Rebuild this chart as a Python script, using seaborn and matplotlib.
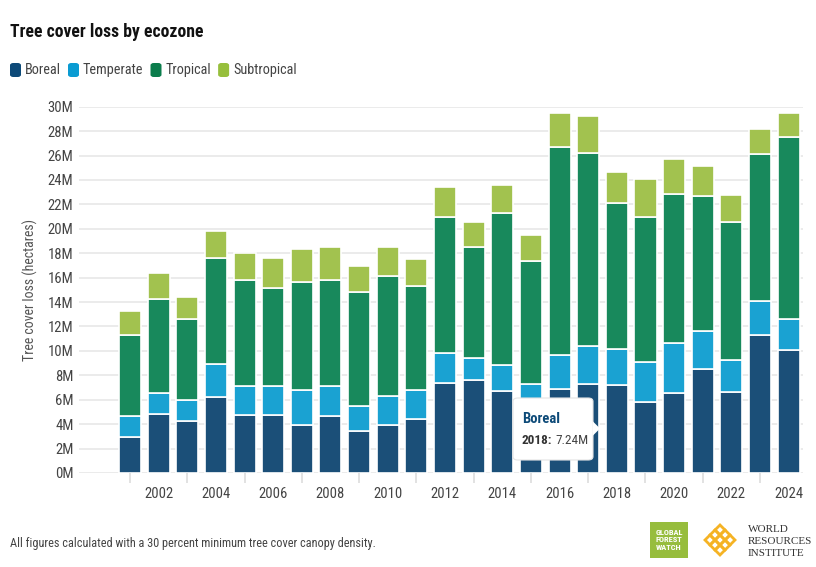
import numpy as np
import pandas as pd
import matplotlib.pyplot as plt
import seaborn as sns
from matplotlib.patches import FancyBboxPatch, Rectangle, Polygon

# data (million hectares)
years = list(range(2001, 2025))
boreal = [2.92, 4.83, 4.28, 6.19, 4.75, 4.75, 3.95, 4.64, 3.41, 3.93, 4.46, 7.36,
          7.58, 6.74, 5.70, 6.87, 7.25, 7.24, 5.84, 6.57, 8.51, 6.65, 11.32, 10.04]
temperate = [1.72, 1.74, 1.69, 2.70, 2.37, 2.34, 2.81, 2.50, 2.04, 2.40, 2.30, 2.46,
             1.80, 2.12, 1.58, 2.81, 3.14, 2.90, 3.27, 4.04, 3.08, 2.62, 2.78, 2.56]
tropical = [6.68, 7.69, 6.63, 8.73, 8.70, 8.10, 8.89, 8.68, 9.38, 9.79, 8.57, 11.12,
            9.16, 12.44, 10.12, 16.99, 15.84, 12.00, 11.89, 12.22, 11.13, 11.26, 12.00, 14.94]
subtropical = [1.96, 2.13, 1.83, 2.23, 2.21, 2.40, 2.68, 2.72, 2.10, 2.40, 2.18, 2.51,
               2.02, 2.29, 2.13, 2.84, 3.03, 2.51, 3.08, 2.89, 2.45, 2.21, 2.04, 1.91]
zones = ["Boreal", "Temperate", "Tropical", "Subtropical"]
bar_colors = ["#1b4f78", "#1aa2d2", "#18895c", "#a2c24f"]
legend_colors = ["#0d4a78", "#0a9bd2", "#0b7d4c", "#97bf3c"]

tooltip_year = 2018
tooltip_value = "7.24M"

df = pd.DataFrame({
    "year": years * 4,
    "zone": sum([[z] * len(years) for z in zones], []),
    "loss": boreal + temperate + tropical + subtropical,
})

plt.rcParams["font.family"] = ["Roboto Condensed", "Roboto", "DejaVu Sans"]

W, H = 816, 567
fig = plt.figure(figsize=(W / 100, H / 100), dpi=100)
ax = fig.add_axes([79 / W, 1 - 473 / H, (803 - 79) / W, (473 - 106.7) / H])

# seaborn stacks hue levels from the last one (bottom) upward
sns.histplot(data=df, x="year", weights="loss", hue="zone",
             hue_order=zones[::-1], palette=dict(zip(zones, bar_colors)),
             multiple="stack", discrete=True, shrink=0.77, alpha=1,
             edgecolor="white", linewidth=1.2, legend=False, ax=ax)

ax.set_xlim(1999.22, 2024.5)
ax.set_ylim(0, 30)
ax.set_yticks(range(0, 31, 2))
ax.set_yticklabels([f"{v}M" for v in range(0, 31, 2)], fontsize=10.5, color="#444444")
ax.set_xticks(range(2002, 2025, 2))
ax.set_xticklabels([str(y) for y in range(2002, 2025, 2)], fontsize=10.5, color="#444444")
ax.set_xticks(range(2001, 2025, 2), minor=True)
ax.tick_params(axis="x", which="major", length=0, pad=10)
ax.tick_params(axis="x", which="minor", length=7, color="#dddddd", width=1.2)
ax.tick_params(axis="y", length=0, pad=4)
ax.grid(axis="y", color="#ebebeb", linewidth=1.4)
ax.set_axisbelow(True)
for s in ax.spines.values():
    s.set_visible(False)
ax.set_xlabel("")
ax.set_ylabel("Tree cover loss (hectares)", fontsize=10, color="#555555", labelpad=7)

# title and legend
fig.text(10 / W, 1 - 32 / H, "Tree cover loss by ecozone", fontsize=12.7,
         fontweight="bold", color="#111111", va="center")
lx = 10
for name, col in zip(zones, legend_colors):
    fig.patches.append(FancyBboxPatch((lx / W, 1 - 77 / H), 11 / W, 14 / H,
                                      boxstyle="round,pad=0,rounding_size=0.004",
                                      transform=fig.transFigure, facecolor=col,
                                      edgecolor="none"))
    t = fig.text((lx + 15) / W, 1 - 70 / H, name, fontsize=10.3, color="#444444", va="center")
    fig.canvas.draw()
    bb = t.get_window_extent()
    lx = bb.x1 + 7

# tooltip
tip = FancyBboxPatch((513 / W, 1 - 460 / H), 80 / W, 62 / H,
                     boxstyle="round,pad=0,rounding_size=0.006",
                     transform=fig.transFigure, facecolor="white",
                     edgecolor="#e4e4e4", linewidth=0.8, zorder=5)
fig.patches.append(tip)
fig.patches.append(Polygon([(592.5 / W, 1 - 421 / H), (600 / W, 1 - 428.5 / H),
                            (592.5 / W, 1 - 436 / H)], closed=True,
                           transform=fig.transFigure, facecolor="white",
                           edgecolor="none", zorder=6))
fig.text(522 / W, 1 - 419 / H, "Boreal", fontsize=10.5, fontweight="bold",
         color="#0d4a78", va="center", zorder=7)
t1 = fig.text(522 / W, 1 - 441 / H, f"{tooltip_year}:", fontsize=9.5,
              fontweight="bold", color="#333333", va="center", zorder=7)
fig.canvas.draw()
bb = t1.get_window_extent()
fig.text((bb.x1 + 3) / W, 1 - 441 / H, tooltip_value, fontsize=9.5,
         color="#444444", va="center", zorder=7)

# footer
fig.text(10 / W, 1 - 544 / H,
         "All figures calculated with a 30 percent minimum tree cover canopy density.",
         fontsize=8.8, color="#444444", va="center")

# logos
fig.patches.append(Rectangle((650 / W, 1 - 558 / H), 38 / W, 36 / H,
                             transform=fig.transFigure, facecolor="#97bd3d",
                             edgecolor="none"))
fig.text(669 / W, 1 - 540 / H, "GLOBAL\nFOREST\nWATCH", fontsize=6, fontweight="bold",
         color="white", ha="center", va="center", linespacing=1.05)
cx, cy = 720, 540
for dx, dy in [(-10, 0), (10, 0), (0, -10), (0, 10), (-5, -5), (5, -5), (-5, 5), (5, 5), (0, 0)]:
    px, py = cx + dx, cy + dy
    fig.patches.append(Polygon([((px - 5) / W, 1 - py / H), (px / W, 1 - (py - 5) / H),
                                ((px + 5) / W, 1 - py / H), (px / W, 1 - (py + 5) / H)],
                               closed=True, transform=fig.transFigure,
                               facecolor="none", edgecolor="#f5b325", linewidth=2))
for i, line in enumerate(["WORLD", "RESOURCES", "INSTITUTE"]):
    fig.text(748 / W, 1 - (529 + 12.5 * i) / H, line, fontsize=8, color="#333333",
             va="center", family=["Liberation Serif", "DejaVu Serif"])

fig.savefig("out.png", dpi=100)
